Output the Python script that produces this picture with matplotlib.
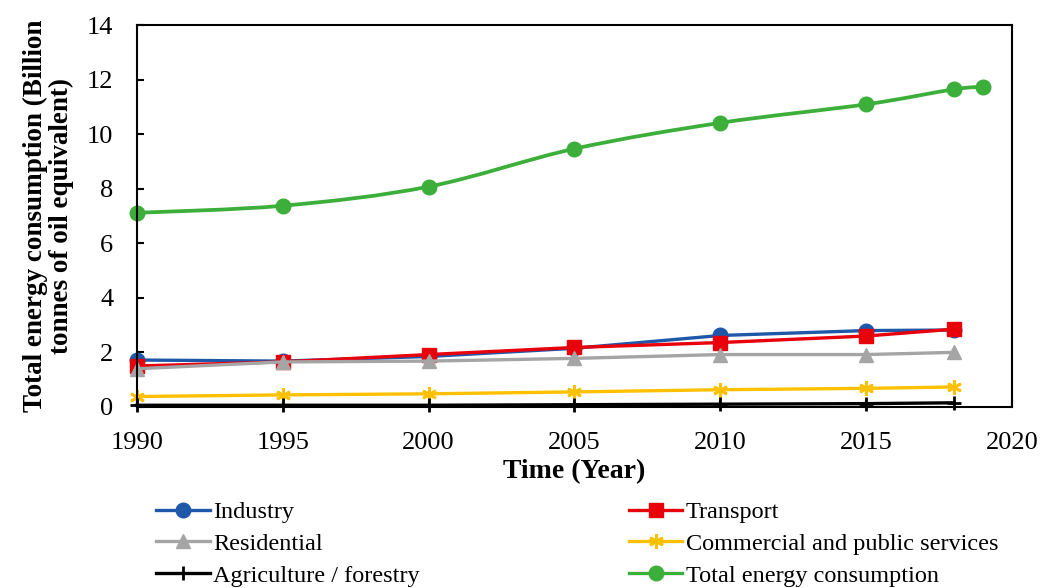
import numpy as np
import matplotlib.pyplot as plt
from matplotlib.path import Path
from matplotlib.patches import PathPatch
from matplotlib.lines import Line2D

plt.rcParams['font.family'] = ['Liberation Serif', 'DejaVu Serif']

years = [1990, 1995, 2000, 2005, 2010, 2015, 2018]
industry = [1.72, 1.68, 1.85, 2.15, 2.62, 2.80, 2.82]
transport = [1.50, 1.65, 1.92, 2.18, 2.36, 2.60, 2.85]
residential = [1.40, 1.65, 1.68, 1.78, 1.92, 1.92, 2.00]
commercial = [0.38, 0.44, 0.48, 0.55, 0.63, 0.68, 0.73]
agriculture = [0.06, 0.06, 0.06, 0.08, 0.10, 0.12, 0.15]

total_years = [1990, 1995, 2000, 2005, 2010, 2015, 2018, 2019]
total = [7.12, 7.38, 8.08, 9.47, 10.42, 11.10, 11.65, 11.74]

xticks = [1990, 1995, 2000, 2005, 2010, 2015, 2020]
yticks = [0, 2, 4, 6, 8, 10, 12, 14]


def smooth_path(x, y, tension=1/6):
    # Catmull-Rom style bezier, like Excel's smoothed line
    x = np.asarray(x, float)
    y = np.asarray(y, float)
    verts = [(x[0], y[0])]
    codes = [Path.MOVETO]
    n = len(x)
    for i in range(n - 1):
        p0 = (x[max(i - 1, 0)], y[max(i - 1, 0)])
        p1 = (x[i], y[i])
        p2 = (x[i + 1], y[i + 1])
        p3 = (x[min(i + 2, n - 1)], y[min(i + 2, n - 1)])
        c1 = (p1[0] + (p2[0] - p0[0]) * tension, p1[1] + (p2[1] - p0[1]) * tension)
        c2 = (p2[0] - (p3[0] - p1[0]) * tension, p2[1] - (p3[1] - p1[1]) * tension)
        verts += [c1, c2, p2]
        codes += [Path.CURVE4] * 3
    return Path(verts, codes)


fig = plt.figure(figsize=(10.53, 5.88), dpi=100)
ax = fig.add_axes([0.130, 0.308, 0.831, 0.649])

lw = 2.4
ms = 10.5
series = [
    ('Industry', industry, '#1f58a8', 'o'),
    ('Transport', transport, '#e8000b', 's'),
    ('Residential', residential, '#a5a5a5', '^'),
    ('Commercial and public services', commercial, '#ffc000', (6, 2, 0)),
    ('Agriculture / forestry', agriculture, '#000000', '+'),
]
handles = {}
for name, vals, col, mk in series:
    h, = ax.plot(years, vals, color=col, lw=lw, marker=mk, ms=ms,
                 markeredgewidth=2 if mk in ('+', (6, 2, 0)) else 1,
                 markeredgecolor=col, label=name, clip_on=False)
    handles[name] = h

green = '#3cae3a'
ax.add_patch(PathPatch(smooth_path(total_years, total), fill=False,
                       edgecolor=green, lw=lw + 0.3))
ax.plot(total_years, total, ls='none', marker='o', ms=ms, color=green,
        clip_on=False)
handles['Total energy consumption'] = Line2D([], [], color=green, lw=lw,
                                             marker='o', ms=ms)

ax.set_xlim(1990, 2020)
ax.set_ylim(0, 14)
ax.set_xticks(xticks)
ax.set_yticks(yticks)
ax.tick_params(axis='both', direction='in', length=5, width=1.5, labelsize=19)
ax.tick_params(axis='x', pad=18)
ax.tick_params(axis='y', pad=17)
for s in ax.spines.values():
    s.set_linewidth(1.5)
    s.set_color('black')

ax.set_xlabel('Time (Year)', fontsize=20, fontweight='bold', labelpad=4)
ax.set_ylabel('Total energy consumption (Billion\ntonnes of oil equivalent)',
              fontsize=19.5, fontweight='bold', labelpad=9, linespacing=1.05)

order = ['Industry', 'Residential', 'Agriculture / forestry',
         'Transport', 'Commercial and public services', 'Total energy consumption']
fig.legend([handles[k] for k in order], order, ncol=2, loc='upper left',
           bbox_to_anchor=(144 / 1053, 1 - 489 / 588), frameon=False,
           fontsize=17.5, handlelength=2.2, handletextpad=0.15,
           columnspacing=8.6, labelspacing=0.4, borderpad=0)

plt.savefig('out.png', dpi=100)
